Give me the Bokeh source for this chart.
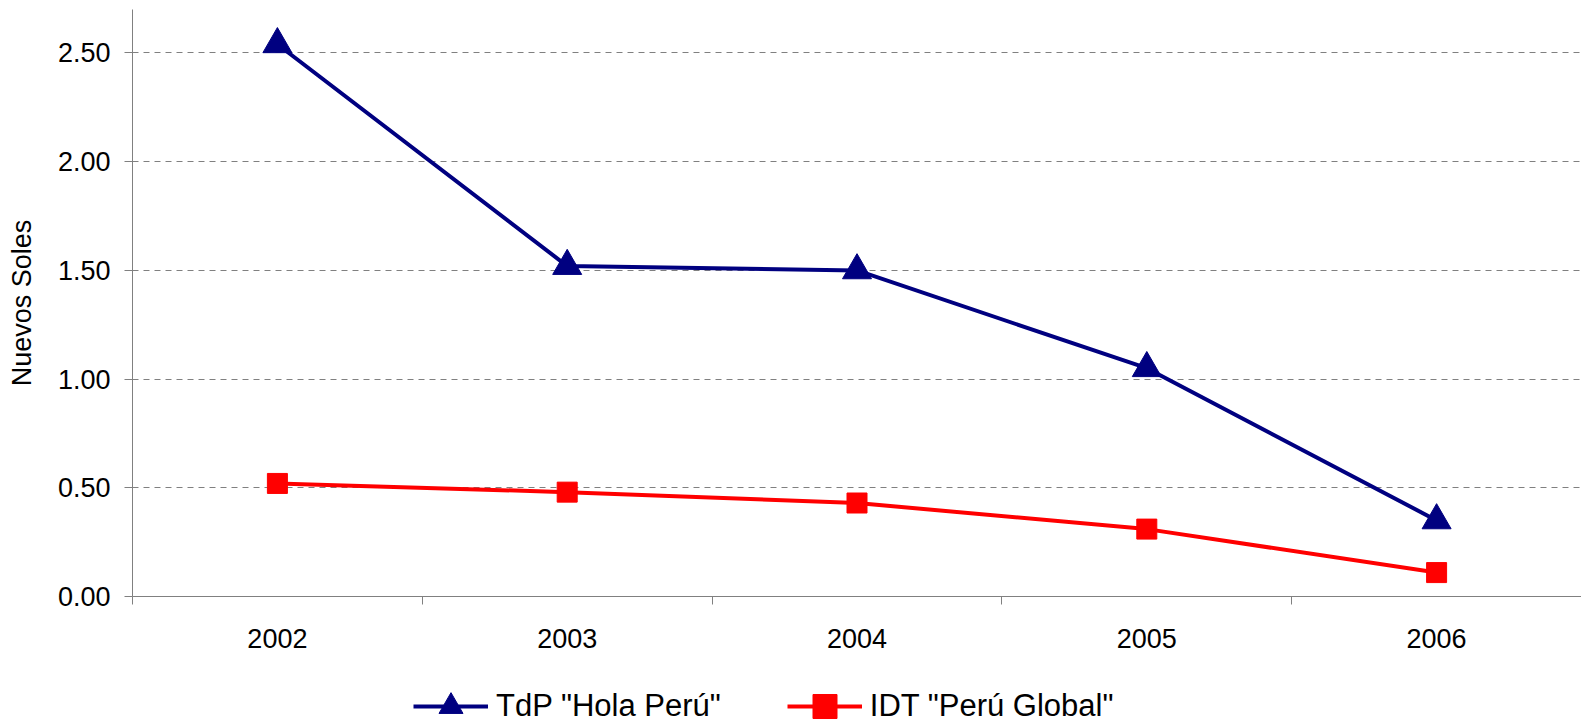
from bokeh.plotting import figure
from bokeh.layouts import column
from bokeh.models import (Range1d, FixedTicker, NumeralTickFormatter, Legend, LegendItem)
from bokeh.embed import file_html
from bokeh.resources import INLINE

years = ["2002", "2003", "2004", "2005", "2006"]
tdp_values = [2.54, 1.52, 1.50, 1.05, 0.35]
idt_values = [0.52, 0.48, 0.43, 0.31, 0.11]
series_names = ['TdP "Hola Perú"', 'IDT "Perú Global"']
y_ticks = [0.0, 0.5, 1.0, 1.5, 2.0, 2.5]
y_label = "Nuevos Soles"

FONT = "Liberation Sans"
GRAY = "#808080"
NAVY = "#000080"
RED = "#FF0000"

xs = [i + 0.5 for i in range(len(years))]

p = figure(width=1581, height=660, output_backend="svg", toolbar_location=None,
           x_range=Range1d(0, len(years)), y_range=Range1d(0, 2.70),
           min_border_left=132, min_border_right=0, min_border_top=9,
           min_border_bottom=64)
p.outline_line_color = None
p.background_fill_color = "white"
p.border_fill_color = "white"

# X axis: labels at category centres, tick marks between categories
p.xaxis.ticker = FixedTicker(ticks=xs, minor_ticks=list(range(len(years) + 1)))
p.xaxis.major_label_overrides = {x: y for x, y in zip(xs, years)}
p.xaxis.major_tick_line_color = None
p.xaxis.major_tick_in = 0
p.xaxis.major_tick_out = 0
p.xaxis.minor_tick_in = 0
p.xaxis.minor_tick_out = 8
p.xaxis.minor_tick_line_color = GRAY
p.xaxis.minor_tick_line_width = 1
p.xaxis.axis_line_color = GRAY
p.xaxis.axis_line_width = 1
p.xaxis.major_label_text_font = FONT
p.xaxis.major_label_text_font_size = "27px"
p.xaxis.major_label_text_color = "black"
p.xaxis.major_label_standoff = 24

# Y axis
p.yaxis.ticker = FixedTicker(ticks=y_ticks, minor_ticks=[])
p.yaxis.formatter = NumeralTickFormatter(format="0.00")
p.yaxis.major_tick_in = 0
p.yaxis.major_tick_out = 8
p.yaxis.major_tick_line_color = GRAY
p.yaxis.minor_tick_line_color = None
p.yaxis.axis_line_color = GRAY
p.yaxis.axis_line_width = 1
p.yaxis.major_label_text_font = FONT
p.yaxis.major_label_text_font_size = "27px"
p.yaxis.major_label_text_color = "black"
p.yaxis.major_label_standoff = 14
p.yaxis.axis_label = y_label
p.yaxis.axis_label_text_font = FONT
p.yaxis.axis_label_text_font_size = "27px"
p.yaxis.axis_label_text_font_style = "normal"
p.yaxis.axis_label_text_color = "black"
p.yaxis.axis_label_standoff = 18

p.xgrid.grid_line_color = None
p.ygrid.ticker = FixedTicker(ticks=y_ticks[1:])
p.ygrid.grid_line_color = GRAY
p.ygrid.grid_line_dash = "6 5"
p.ygrid.grid_line_width = 1

p.line(xs, tdp_values, line_color=NAVY, line_width=4)
p.scatter(xs, tdp_values, marker="triangle", size=29, fill_color=NAVY, line_color=NAVY)
p.line(xs, idt_values, line_color=RED, line_width=4)
p.scatter(xs, idt_values, marker="square", size=20, fill_color=RED, line_color=RED)

# Legend strip below the chart (its renderers sit outside its visible range)
lg = figure(width=1581, height=63, output_backend="svg", toolbar_location=None,
            x_range=Range1d(-10, -9), y_range=Range1d(-10, -9),
            x_axis_type=None, y_axis_type=None,
            min_border_left=0, min_border_right=0, min_border_top=0, min_border_bottom=0)
lg.outline_line_color = None
lg.xgrid.grid_line_color = None
lg.ygrid.grid_line_color = None
l1 = lg.line(xs, tdp_values, line_color=NAVY, line_width=4)
s1 = lg.scatter(xs, tdp_values, marker="triangle", size=29, fill_color=NAVY, line_color=NAVY)
l2 = lg.line(xs, idt_values, line_color=RED, line_width=4)
s2 = lg.scatter(xs, idt_values, marker="square", size=20, fill_color=RED, line_color=RED)

legend = Legend(items=[LegendItem(label=series_names[0], renderers=[l1, s1]),
                       LegendItem(label=series_names[1], renderers=[l2, s2])],
                orientation="horizontal", location=(281, -13),
                glyph_width=75, glyph_height=60, label_standoff=8, spacing=66,
                padding=0, margin=0, border_line_color=None,
                background_fill_alpha=0, label_text_font=FONT,
                label_text_font_size="31px", label_text_color="black")
lg.add_layout(legend, "center")

layout = column(p, lg, spacing=0)
open("out.html", "w").write(file_html(layout, INLINE))
